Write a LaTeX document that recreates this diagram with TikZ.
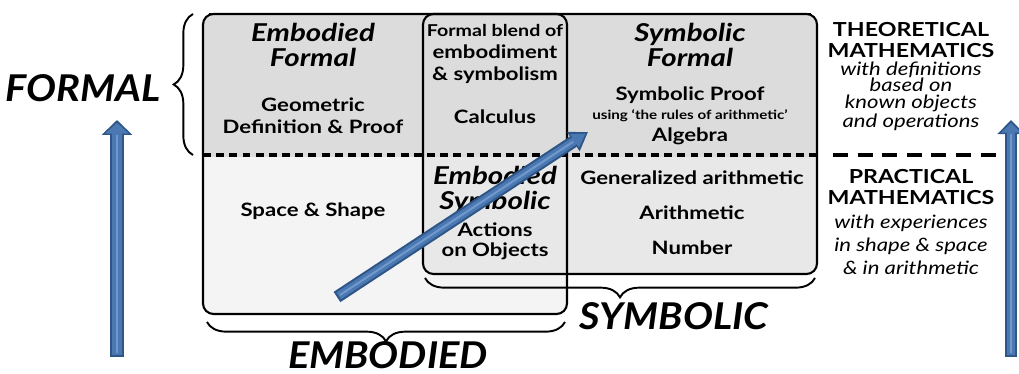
\documentclass[tikz,border=0pt]{standalone}
\usepackage{fontspec}
\setmainfont{Lato}[FakeStretch=1.2]
\newfontfamily\labelfont{Lato}[FakeStretch=1.08]
\usetikzlibrary{arrows.meta,decorations.pathreplacing}
\definecolor{formalgray}{HTML}{DCDCDC}
\definecolor{embodiedgray}{HTML}{F4F4F4}
\definecolor{symbolicgray}{HTML}{E8E8E8}
\definecolor{arrowblue}{HTML}{4B78B1}
\definecolor{arrowedge}{HTML}{2E5689}
\definecolor{arrowlight}{HTML}{6F98CD}
\tikzset{
  worldbox/.style={draw, line width=1.2pt, rounded corners=6pt},
  worldbrace/.style={decorate, decoration={brace, amplitude=11pt}, line width=1.1pt},
  worldlabel/.style={font=\labelfont\fontsize{21}{24}\selectfont\bfseries\itshape},
  titletext/.style={font=\fontsize{14}{14}\selectfont\bfseries\itshape, align=center},
  bodytext/.style={font=\fontsize{10.5}{12.5}\selectfont\bfseries, align=center},
  sidehead/.style={font=\fontsize{11}{11.5}\selectfont\bfseries, align=center},
  sidenote/.style={font=\fontsize{10.5}{9.4}\selectfont\itshape, align=center},
}
\begin{document}
\begin{tikzpicture}[x=0.02cm, y=-0.02cm]
  \useasboundingbox (0,0) rectangle (1019,374);
  % fills
  \fill[embodiedgray, rounded corners=6pt] (203,14) rectangle (567,314);
  \fill[symbolicgray, rounded corners=6pt] (423,14) rectangle (817,274);
  \fill[formalgray, rounded corners=6pt] (203,14) rectangle (817,157);
  % the three worlds
  \draw[worldbox] (203,14) rectangle (567,314);
  \draw[worldbox] (423,14) rectangle (817,274);
  \draw[line width=1.2pt] (209,14) -- (811,14);
  % formal / practical divide
  \coordinate (divL) at (203,155);
  \coordinate (divR) at (817,155);
  \draw[line width=2.2pt, dash pattern=on 4.5pt off 3pt] (divL) -- (divR);
  \coordinate (sideL) at (833,155);
  \coordinate (sideR) at (1000,155);
  \draw[line width=2.8pt, dash pattern=on 8.5pt off 5.5pt] (sideL) -- (sideR);
  % upper texts
  \node[titletext] (efTitle) at (313,45) {Embodied\\Formal};
  \node[bodytext] (efBody) at (313,116) {Geometric\\Definition \& Proof};
  \node[bodytext] (blend) at (495,54) {{\fontsize{9.3}{12.5}\selectfont Formal blend of}\\embodiment\\\& symbolism};
  \node[bodytext] (calc) at (495,117) {Calculus};
  \node[titletext] (sfTitle) at (690,45) {Symbolic\\Formal};
  \node[bodytext] (proof) at (690,95) {Symbolic Proof};
  \node[font=\fontsize{7.2}{8}\selectfont\bfseries] (rules) at (690,116) {using ‘the rules of arithmetic’};
  \node[bodytext] (algebra) at (690,136) {Algebra};
  % lower texts
  \node[bodytext] (space) at (313,211) {Space \& Shape};
  \node[titletext] (esTitle) at (495,190) {Embodied\\Symbolic};
  \node[bodytext, font=\fontsize{10.5}{11.3}\selectfont\bfseries] (actions) at (495,241) {Actions\\on Objects};
  \node[bodytext] (genArith) at (692,178) {Generalized arithmetic};
  \node[bodytext] (arith) at (692,213) {Arithmetic};
  \node[bodytext] (number) at (692,248) {Number};
  % braces
  \draw[worldbrace] (193,155) -- (193,14);
  \node[worldlabel, anchor=east] (formal) at (167,88) {FORMAL};
  \draw[worldbrace] (565,322) -- (207,322);
  \node[worldlabel] (embodied) at (388,355) {EMBODIED};
  \draw[worldbrace] (815,278) -- (425,278);
  \node[worldlabel] (symbolic) at (674,316) {SYMBOLIC};
  % right hand texts
  \node[sidehead] (theo) at (911,40) {THEORETICAL\\MATHEMATICS};
  \node[sidenote] (theoNote) at (911,96) {with definitions\\based on\\known objects\\and operations};
  \node[sidehead] (prac) at (911,187) {PRACTICAL\\MATHEMATICS};
  \node[sidenote, font=\fontsize{10.5}{13}\selectfont\itshape] (pracNote) at (911,245) {with experiences\\in shape \& space\\\& in arithmetic};
  % blue arrows
  \coordinate (leftTail) at (117,357);
  \coordinate (leftTip) at (117,120);
  \coordinate (rightTail) at (1011,357);
  \coordinate (rightTip) at (1011,120);
  \coordinate (diagTail) at (337,297);
  \coordinate (diagTip) at (588,132);
  \foreach \tail/\tip/\shaft/\head/\hlen in {leftTail/leftTip/8.2/17/8.5, rightTail/rightTip/7.2/15/8, diagTail/diagTip/7/12.5/10} {
    \draw[arrowedge, line width=\shaft pt, -{Triangle[width=\head pt, length=\hlen pt]}] (\tail) -- (\tip);
    \draw[arrowblue, line width=\shaft pt-2.4pt, shorten <=1.2pt, shorten >=1.6pt,
      -{Triangle[width=\head pt-4pt, length=\hlen pt-2.4pt]}] (\tail) -- (\tip);
    \draw[arrowlight, line width=1.2pt, shorten <=2pt, shorten >=\hlen pt] (\tail) -- (\tip);
  }
\end{tikzpicture}
\end{document}
